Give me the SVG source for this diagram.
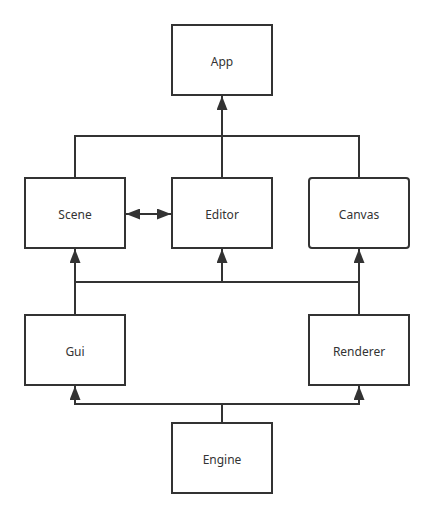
<svg xmlns="http://www.w3.org/2000/svg" width="434" height="518" viewBox="0 0 434 518">
<style>
.box{fill:#fff;stroke:#333;stroke-width:2}
.lbl{font-family:"Noto Sans","Open Sans","DejaVu Sans",sans-serif;font-size:12px;fill:#333;text-anchor:middle;dominant-baseline:central}
.ln{fill:none;stroke:#333;stroke-width:2}
</style>
<defs>
<marker id="arr" markerUnits="userSpaceOnUse" markerWidth="14" markerHeight="11" refX="14" refY="5.5" orient="auto-start-reverse" viewBox="0 0 14 11">
<path d="M0,0 L14,5.5 L0,11 z" fill="#333"/>
</marker>
</defs>
<rect width="434" height="518" fill="#fff"/>
<g id="connectors">
<path class="ln" d="M222,178 L222,96" marker-end="url(#arr)"/>
<path class="ln" d="M75,178 L75,136 L359,136 L359,178"/>
<path class="ln" d="M126,214 L171,214" marker-start="url(#arr)" marker-end="url(#arr)"/>
<path class="ln" d="M75,315 L75,249" marker-end="url(#arr)"/>
<path class="ln" d="M359,315 L359,249" marker-end="url(#arr)"/>
<path class="ln" d="M75,282 L359,282"/>
<path class="ln" d="M222,282 L222,249" marker-end="url(#arr)"/>
<path class="ln" d="M222,423 L222,404 L75,404 L75,386" marker-end="url(#arr)"/>
<path class="ln" d="M222,404 L359,404 L359,386" marker-end="url(#arr)"/>
</g>
<g id="App"><rect class="box" x="172" y="25" width="100" height="70"/><text class="lbl" x="222" y="61">App</text></g>
<g id="Scene"><rect class="box" x="25" y="178" width="100" height="70"/><text class="lbl" x="75" y="214">Scene</text></g>
<g id="Editor"><rect class="box" x="172" y="178" width="100" height="70"/><text class="lbl" x="222" y="214">Editor</text></g>
<g id="Canvas"><rect class="box" x="309" y="178" width="100" height="70" rx="3"/><text class="lbl" x="359" y="214">Canvas</text></g>
<g id="Gui"><rect class="box" x="25" y="315" width="100" height="70"/><text class="lbl" x="75" y="351">Gui</text></g>
<g id="Renderer"><rect class="box" x="309" y="315" width="100" height="70"/><text class="lbl" x="359" y="351">Renderer</text></g>
<g id="Engine"><rect class="box" x="172" y="423" width="100" height="70"/><text class="lbl" x="222" y="459">Engine</text></g>
</svg>
